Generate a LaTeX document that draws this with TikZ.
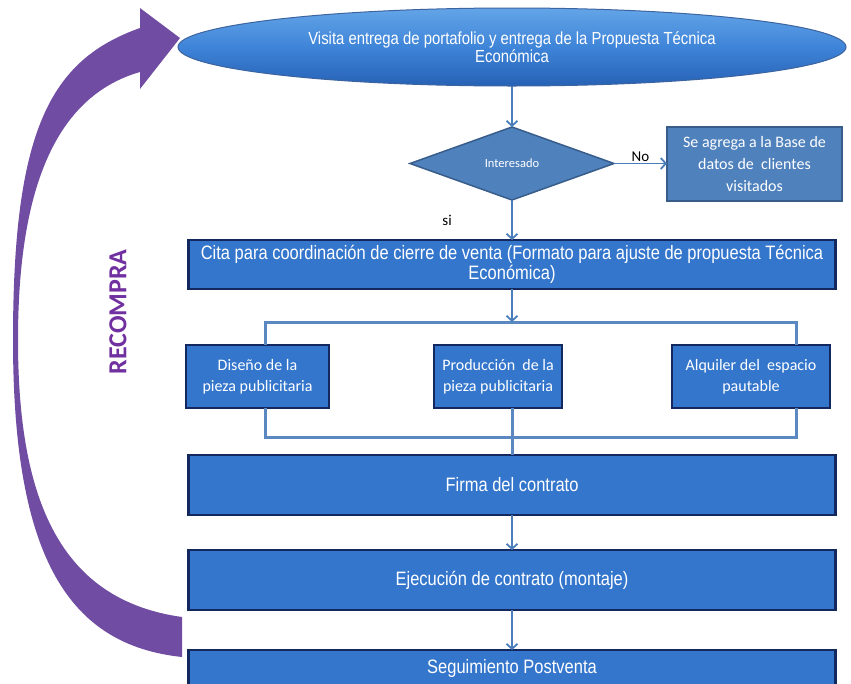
\documentclass[tikz,border=0pt]{standalone}
\usepackage{fontspec}
\setmainfont{Liberation Sans}
\newfontfamily\estrecha[FakeStretch=0.85]{Liberation Sans}
\newfontfamily\calibri{Carlito}
\usetikzlibrary{arrows.meta, positioning, shapes.geometric}
\definecolor{azulcaja}{RGB}{52,118,204}
\definecolor{bordecaja}{RGB}{18,40,95}
\definecolor{azulacero}{RGB}{79,129,189}
\definecolor{bordeacero}{RGB}{56,93,138}
\definecolor{azulconector}{RGB}{74,126,187}
\definecolor{azulllave}{RGB}{92,136,194}
\definecolor{morado}{RGB}{112,76,162}
\definecolor{moradotexto}{RGB}{112,48,160}
\tikzset{
  cajaprincipal/.style={draw=bordecaja, line width=2.2pt, fill=azulcaja, text=white, minimum width=647pt, align=center, inner sep=0pt, outer sep=0pt, font=\estrecha\fontsize{19.4}{20.5}\selectfont},
  cajapieza/.style={draw=bordecaja, line width=1.8pt, fill=azulcaja, text=white, minimum height=63pt, align=center, inner sep=0pt, outer sep=0pt, font=\calibri\fontsize{16}{21}\selectfont},
  conector/.style={draw=azulconector, line width=1.8pt},
  llave/.style={draw=azulllave, line width=3pt},
  etiqueta/.style={text=black, font=\calibri\fontsize{15}{15}\selectfont},
  >={Straight Barb[length=5pt,width=11pt]}
}
\begin{document}
\begin{tikzpicture}[x=1pt, y=-1pt]
  \clip (0,0) rectangle (851,683);
  \fill[white] (0,0) rectangle (851,683);

  \fill[morado] (182,657) .. controls (70,645) and (13,560) .. (13,340) .. controls (13,130) and (50,60) .. (140,28)
    -- (140,8) -- (180,38) -- (140,89) -- (140,72)
    .. controls (60,95) and (18,180) .. (18,340) .. controls (18,500) and (60,600) .. (182,617) -- cycle;
  \node[rotate=90, text=moradotexto, font=\calibri\bfseries\fontsize{26}{26}\selectfont] (recompra) at (118,312) {RECOMPRA};

  \node[ellipse, draw={rgb,255:red,62;green,100;blue,160}, line width=1pt, top color={rgb,255:red,100;green,165;blue,232}, bottom color={rgb,255:red,38;green,98;blue,182}, middle color={rgb,255:red,62;green,132;blue,216}, minimum width=668pt, minimum height=78pt, inner sep=0pt, outer sep=0pt, text=white, align=center, font=\estrecha\fontsize{17.5}{18}\selectfont] (visita) at (512,47) {Visita entrega de portafolio y entrega de la Propuesta Técnica\\Económica};
  \node[diamond, draw=bordeacero, line width=1.5pt, fill=azulacero, minimum width=204pt, minimum height=73pt, inner sep=0pt, outer sep=0pt, text=white, font=\calibri\fontsize{12.5}{12.5}\selectfont, below=41pt of visita] (interesado) {Interesado};
  \node[draw=bordeacero, line width=2pt, fill=azulacero, minimum width=175pt, minimum height=74pt, inner sep=0pt, outer sep=0pt, text=white, align=center, font=\calibri\fontsize{16}{22}\selectfont, right=53pt of interesado] (base-clientes) {Se agrega a la Base de\\datos de \ clientes\\visitados};
  \draw[conector, ->] (visita) -- (interesado);
  \draw[conector, ->] (interesado) -- node[etiqueta, above, inner sep=1pt] {No} (base-clientes);

  \node[cajaprincipal, minimum height=49pt, below=40pt of interesado] (cita) {Cita para coordinación de cierre de venta (Formato para ajuste de propuesta Técnica\\Económica)};
  \draw[conector, ->] (interesado) -- node[etiqueta, left=56pt] {si} (cita);

  \coordinate[below=33pt of cita] (reparto);
  \node[cajapieza, minimum width=128pt, below=56pt of cita, xshift=-14pt] (produccion) {Producción \ de la\\pieza publicitaria};
  \node[cajapieza, minimum width=143pt, left=105pt of produccion] (diseno) {Diseño de la\\pieza publicitaria};
  \node[cajapieza, minimum width=158pt, right=110pt of produccion] (alquiler) {Alquiler del \ espacio\\pautable};
  \coordinate (rama-izq) at (265,322);
  \coordinate (rama-der) at (796,322);
  \coordinate (union-izq) at (265,437);
  \coordinate (union-der) at (796,437);
  \draw[llave] (diseno.north -| rama-izq) -- (rama-izq) -- (rama-der) -- (alquiler.north -| rama-der);
  \draw[llave] (diseno.south -| union-izq) -- (union-izq) -- (union-der) -- (alquiler.south -| union-der);
  \draw[conector, ->] (cita) -- (reparto);

  \node[cajaprincipal, minimum height=60pt, below=166pt of cita] (firma) {Firma del contrato};
  \node[cajaprincipal, minimum height=60pt, below=35pt of firma] (ejecucion) {Ejecución de contrato (montaje)};
  \node[cajaprincipal, minimum height=36pt, below=40pt of ejecucion] (seguimiento) {Seguimiento Postventa};
  \draw[llave] (produccion.south -| firma.north) -- (firma.north);
  \draw[conector, ->] (firma) -- (ejecucion);
  \draw[conector, ->] (ejecucion) -- (seguimiento);
\end{tikzpicture}
\end{document}
